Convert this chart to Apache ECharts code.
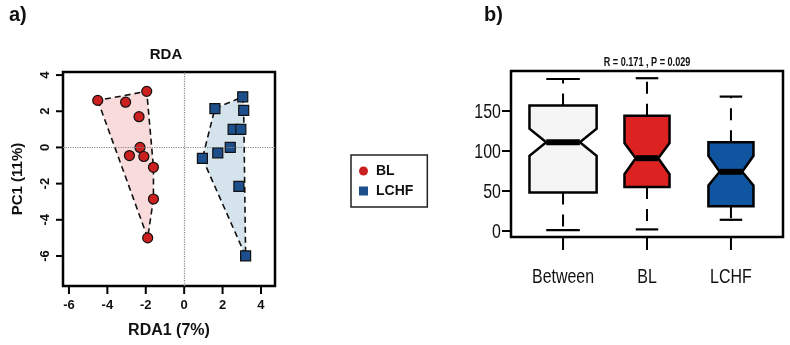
<!DOCTYPE html>
<html>
<head>
<meta charset="utf-8">
<script src="https://cdn.jsdelivr.net/npm/echarts@6/dist/echarts.min.js"></script>
<style>
  html, body { margin: 0; padding: 0; background: #fff; }
  #main { width: 790px; height: 345px; }
</style>
</head>
<body>
<div id="main"></div>
<script>
// panel a: RDA scores
var blX = [-4.5, -1.95, -3.05, -2.35, -2.3, -2.85, -2.1, -1.6, -1.6, -1.9];
var blY = [2.6, 3.1, 2.5, 1.7, 0.0, -0.45, -0.5, -1.1, -2.85, -5.0];
var lchfX = [1.6, 3.05, 3.1, 2.55, 2.95, 2.4, 1.75, 0.95, 2.85, 3.2];
var lchfY = [2.15, 2.8, 2.05, 1.0, 1.0, 0.0, -0.3, -0.6, -2.15, -6.0];
var rdaTicksX = [-6, -4, -2, 0, 2, 4];
var rdaTicksY = [-6, -4, -2, 0, 2, 4];

// panel b: notched boxplots
var boxCats = ['Between', 'BL', 'LCHF'];
var boxN = [100, 45, 45];
var whiskLow = [1, 2, 14];
var q1 = [48, 55, 31];
var notchLow = [94, 71, 57];
var median = [111, 91, 74];
var notchHigh = [128, 110, 94];
var q3 = [157, 144, 111];
var whiskHigh = [190, 191, 168];
var boxTicksY = [0, 50, 100, 150];
var boxSubtitle = 'R = 0.171 , P = 0.029';

var boxColors = ['#f5f5f5', '#dd2222', '#0f55a0'];
var font = 'Liberation Sans, Arial, sans-serif';
var aMinX = -6.31, aMaxX = 4.73, aMinY = -7.66, aMaxY = 4.17;
var bMin = -7.5, bMax = 200, bxMin = 0.38, bxMax = 3.62;
var noLine = { show: false, onZero: false };

function zipPts(xs, ys) {
  var out = [];
  for (var i = 0; i < xs.length; i++) out.push([xs[i], ys[i]]);
  return out;
}

// convex hull (monotone chain)
function hull(pts) {
  var p = pts.slice().sort(function (a, b) { return a[0] - b[0] || a[1] - b[1]; });
  function cross(o, a, b) { return (a[0] - o[0]) * (b[1] - o[1]) - (a[1] - o[1]) * (b[0] - o[0]); }
  var lower = [], upper = [];
  for (var i = 0; i < p.length; i++) {
    while (lower.length >= 2 && cross(lower[lower.length - 2], lower[lower.length - 1], p[i]) <= 0) lower.pop();
    lower.push(p[i]);
  }
  for (var j = p.length - 1; j >= 0; j--) {
    while (upper.length >= 2 && cross(upper[upper.length - 2], upper[upper.length - 1], p[j]) <= 0) upper.pop();
    upper.push(p[j]);
  }
  upper.pop(); lower.pop();
  return lower.concat(upper);
}

var blPts = zipPts(blX, blY);
var lchfPts = zipPts(lchfX, lchfY);

function hullSeries(pts, fill) {
  var h = hull(pts);
  return {
    type: 'custom',
    xAxisIndex: 0, yAxisIndex: 0,
    silent: true,
    z: 1,
    data: [0],
    renderItem: function (params, api) {
      var poly = h.map(function (p) { return api.coord(p); });
      return {
        type: 'polygon',
        shape: { points: poly },
        style: { fill: fill, stroke: '#111', lineWidth: 1.6, lineDash: [6, 4] }
      };
    }
  };
}

// outward tick marks (R style) hanging off the box edge
function tickSeries(axisIdx, ticks, dir, len) {
  return {
    type: 'custom', xAxisIndex: axisIdx, yAxisIndex: axisIdx, silent: true, clip: false, z: 5,
    data: ticks.map(function (v) { return dir === 'x' ? [v, 0] : [0, v]; }),
    renderItem: function (params, api) {
      var cs = params.coordSys;
      var p = api.coord([api.value(0), api.value(1)]);
      var shape = dir === 'x'
        ? { x1: p[0], y1: cs.y + cs.height, x2: p[0], y2: cs.y + cs.height + len }
        : { x1: cs.x, y1: p[1], x2: cs.x - len, y2: p[1] };
      return { type: 'line', shape: shape, style: { stroke: '#000', lineWidth: 2 } };
    }
  };
}

// condensed-looking text for panel b (R's narrow font)
function narrowText(x, y, txt, size, align, vAlign, weight) {
  return {
    type: 'text', x: x, y: y, scaleX: 0.76, scaleY: 1,
    style: { text: txt, fill: '#111', fontFamily: font, fontSize: size, fontWeight: weight || 'normal', align: align, verticalAlign: vAlign }
  };
}

var boxData = boxCats.map(function (c, i) {
  return [i + 1, whiskLow[i], q1[i], notchLow[i], median[i], notchHigh[i], q3[i], whiskHigh[i], boxN[i]];
});
var maxN = Math.max.apply(null, boxN);

var dom = document.getElementById('main');
var myChart = echarts.init(dom);
var option = {
  backgroundColor: '#fff',
  animation: false,
  title: [
    { text: 'a)', left: 9, top: 5, padding: 0, textStyle: { fontFamily: font, fontWeight: 'bold', fontSize: 20, color: '#111' } },
    { text: 'RDA', left: 166, top: 47, padding: 0, textAlign: 'center', textStyle: { fontFamily: font, fontWeight: 'bold', fontSize: 15, color: '#111' } },
    { text: 'b)', left: 484, top: 5, padding: 0, textStyle: { fontFamily: font, fontWeight: 'bold', fontSize: 20, color: '#111' } }
  ],
  legend: {
    data: [
      { name: 'BL', itemStyle: { borderWidth: 0 } },
      { name: 'LCHF', itemStyle: { borderWidth: 0 } }
    ],
    orient: 'vertical',
    left: 351, top: 155,
    padding: [9, 14, 9, 8],
    itemGap: 6,
    itemWidth: 9, itemHeight: 9,
    borderColor: '#222', borderWidth: 1.5,
    textStyle: { fontFamily: font, fontWeight: 'bold', fontSize: 14, color: '#111', padding: [0, 0, 0, 3] }
  },
  grid: [
    { left: 63, top: 72, width: 212, height: 214, show: true, borderColor: '#000', borderWidth: 2.5, backgroundColor: 'transparent' },
    { left: 511, top: 71, width: 272, height: 166, show: true, borderColor: '#000', borderWidth: 2.5, backgroundColor: 'transparent' }
  ],
  xAxis: [
    {
      gridIndex: 0, type: 'value', min: aMinX, max: aMaxX,
      name: 'RDA1 (7%)', nameLocation: 'middle', nameGap: 37,
      nameTextStyle: { fontFamily: font, fontWeight: 'bold', fontSize: 16, color: '#111' },
      axisLine: noLine, splitLine: { show: false }, axisTick: { show: false },
      axisLabel: { customValues: rdaTicksX, margin: 13, fontFamily: font, fontWeight: 'bold', fontSize: 13, color: '#111' }
    },
    {
      gridIndex: 1, type: 'value', min: bxMin, max: bxMax,
      axisLine: noLine, splitLine: { show: false }, axisTick: { show: false },
      axisLabel: { show: false }
    }
  ],
  yAxis: [
    {
      gridIndex: 0, type: 'value', min: aMinY, max: aMaxY,
      name: 'PC1 (11%)', nameLocation: 'middle', nameGap: 38, nameRotate: 90,
      nameTextStyle: { fontFamily: font, fontWeight: 'bold', fontSize: 15, color: '#111' },
      axisLine: noLine, splitLine: { show: false }, axisTick: { show: false },
      axisLabel: { customValues: rdaTicksY, rotate: 90, margin: 11, fontFamily: font, fontWeight: 'bold', fontSize: 13, color: '#111' }
    },
    {
      gridIndex: 1, type: 'value', min: bMin, max: bMax,
      axisLine: noLine, splitLine: { show: false }, axisTick: { show: false },
      axisLabel: { show: false }
    }
  ],
  series: [
    hullSeries(blPts, 'rgba(246, 200, 200, 0.65)'),
    hullSeries(lchfPts, 'rgba(190, 212, 228, 0.65)'),
    {
      name: 'BL', type: 'scatter', xAxisIndex: 0, yAxisIndex: 0, z: 3,
      symbol: 'circle', symbolSize: 10,
      itemStyle: { color: '#cc1f1f', borderColor: '#111', borderWidth: 1.2, opacity: 1 },
      data: blPts,
      markLine: {
        silent: true, symbol: 'none', label: { show: false },
        lineStyle: { color: '#888', type: 'dotted', width: 1.2 },
        data: [{ xAxis: 0 }, { yAxis: 0 }]
      }
    },
    {
      name: 'LCHF', type: 'scatter', xAxisIndex: 0, yAxisIndex: 0, z: 3,
      symbol: 'rect', symbolSize: 10,
      itemStyle: { color: '#1d4f8c', borderColor: '#111', borderWidth: 1.2, opacity: 1 },
      data: lchfPts
    },
    tickSeries(0, rdaTicksX, 'x', 8),
    tickSeries(0, rdaTicksY, 'y', 7),
    tickSeries(1, [1, 2, 3], 'x', 13),
    tickSeries(1, boxTicksY, 'y', 9),
    {
      type: 'custom', xAxisIndex: 1, yAxisIndex: 1, silent: true,
      data: boxData,
      renderItem: function (params, api) {
        var x = api.value(0);
        var n = api.value(8);
        var half = 0.4 * Math.sqrt(n / maxN);
        var hw = api.size([half, 0])[0];
        var c = api.coord([x, 0])[0];
        function py(v) { return api.coord([x, v])[1]; }
        var yWL = py(api.value(1)), yQ1 = py(api.value(2)), yNL = py(api.value(3)),
            yMed = py(api.value(4)), yNH = py(api.value(5)), yQ3 = py(api.value(6)), yWH = py(api.value(7));
        var pts = [
          [c - hw, yQ3], [c + hw, yQ3], [c + hw, yNH], [c + hw / 2, yMed], [c + hw, yNL],
          [c + hw, yQ1], [c - hw, yQ1], [c - hw, yNL], [c - hw / 2, yMed], [c - hw, yNH]
        ];
        var blk = '#000';
        return {
          type: 'group',
          children: [
            { type: 'line', shape: { x1: c, y1: yQ3, x2: c, y2: yWH }, style: { stroke: blk, lineWidth: 2, lineDash: [12, 10] } },
            { type: 'line', shape: { x1: c, y1: yQ1, x2: c, y2: yWL }, style: { stroke: blk, lineWidth: 2, lineDash: [12, 10] } },
            { type: 'line', shape: { x1: c - hw / 2, y1: yWH, x2: c + hw / 2, y2: yWH }, style: { stroke: blk, lineWidth: 2.2 } },
            { type: 'line', shape: { x1: c - hw / 2, y1: yWL, x2: c + hw / 2, y2: yWL }, style: { stroke: blk, lineWidth: 2.2 } },
            { type: 'polygon', shape: { points: pts }, style: { fill: boxColors[params.dataIndex], stroke: blk, lineWidth: 2.5, lineJoin: 'miter' } },
            { type: 'line', shape: { x1: c - hw / 2, y1: yMed, x2: c + hw / 2, y2: yMed }, style: { stroke: blk, lineWidth: 6 } }
          ]
        };
      }
    },
    {
      // category labels under panel b
      type: 'custom', xAxisIndex: 1, yAxisIndex: 1, silent: true, clip: false,
      data: boxCats.map(function (c, i) { return [i + 1, bMin]; }),
      renderItem: function (params, api) {
        var p = api.coord([api.value(0), api.value(1)]);
        return narrowText(p[0], p[1] + 30, boxCats[params.dataIndex], 21, 'center', 'top');
      }
    },
    {
      // y tick labels of panel b
      type: 'custom', xAxisIndex: 1, yAxisIndex: 1, silent: true, clip: false,
      data: boxTicksY.map(function (v) { return [bxMin, v]; }),
      renderItem: function (params, api) {
        var p = api.coord([api.value(0), api.value(1)]);
        return narrowText(p[0] - 10, p[1] + 1, String(boxTicksY[params.dataIndex]), 21, 'right', 'middle');
      }
    },
    {
      // test statistic above panel b
      type: 'custom', xAxisIndex: 1, yAxisIndex: 1, silent: true, clip: false,
      data: [[2, bMax]],
      renderItem: function (params, api) {
        var p = api.coord([api.value(0), api.value(1)]);
        return narrowText(p[0], p[1] - 2, boxSubtitle, 12, 'center', 'bottom', 'bold');
      }
    }
  ]
};
if (option && typeof option === "object") {
  myChart.setOption(option, true);
}
</script>
</body>
</html>
